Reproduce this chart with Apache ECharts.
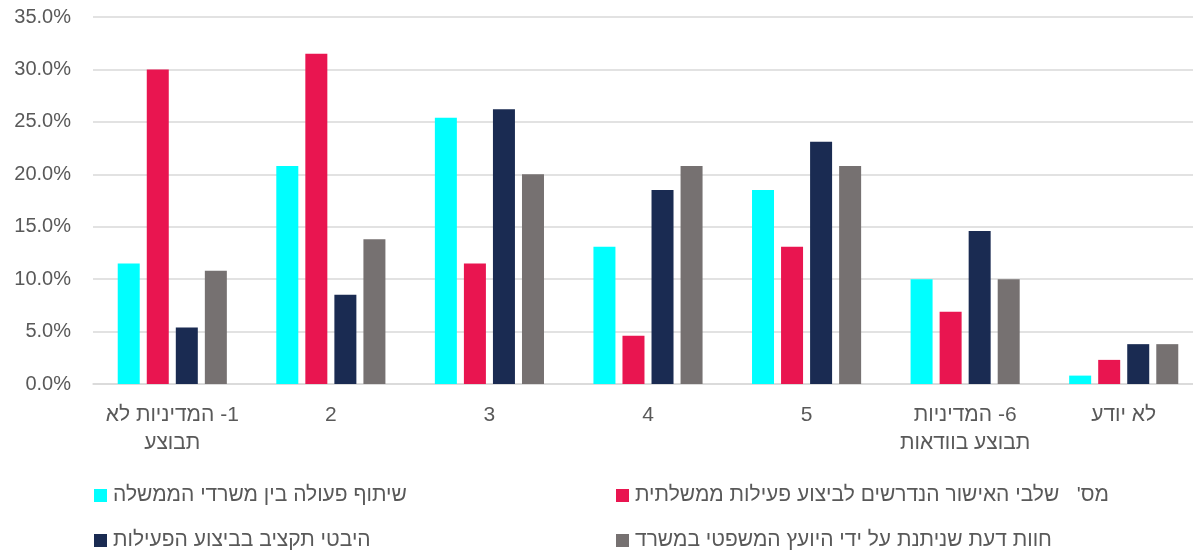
<!DOCTYPE html>
<html><head><meta charset="utf-8">
<script src="https://cdn.jsdelivr.net/npm/echarts@6/dist/echarts.min.js"></script>
<style>html,body{margin:0;padding:0;background:#fff}#c{width:1193px;height:550px}</style>
</head><body><div id="c"></div>
<script>
var categories = ['1- המדיניות לא\nתבוצע', '2', '3', '4', '5', '6- המדיניות\nתבוצע בוודאות', 'לא יודע'];
var seriesNames = ['שיתוף פעולה בין משרדי הממשלה', "מס'   שלבי האישור הנדרשים לביצוע פעילות ממשלתית", 'היבטי תקציב בביצוע הפעילות', 'חוות דעת שניתנת על ידי היועץ המשפטי במשרד'];
var cooperation = [11.5, 20.8, 25.4, 13.1, 18.5, 10.0, 0.8];
var approvalSteps = [30.0, 31.5, 11.5, 4.6, 13.1, 6.9, 2.3];
var budget = [5.4, 8.5, 26.2, 18.5, 23.1, 14.6, 3.8];
var legalOpinion = [10.8, 13.8, 20.0, 20.8, 20.8, 10.0, 3.8];
var colors = ['#00FFFF', '#E91550', '#1A2B52', '#767171'];
var values = [cooperation, approvalSteps, budget, legalOpinion];
var font = "'Liberation Sans', Arial, sans-serif";
var txt = '#595959';
// render each line as a right-to-left isolate (like the RTL source chart)
function rtl(s) {
  return s.split('\n').map(function (line) { return '\u2067' + line + '\u2069'; }).join('\n');
}
var chart = echarts.init(document.getElementById('c'));
var legendPos = [[94, 485], [616, 485], [94, 530], [616, 530]];
chart.setOption({
  animation: false,
  grid: {left: 93, top: 17, width: 1110, height: 367, outerBoundsMode: 'none', containLabel: false},
  xAxis: {
    type: 'category', data: categories,
    axisLine: {lineStyle: {color: '#d9d9d9', width: 1.5}},
    axisTick: {show: false},
    axisLabel: {color: txt, fontSize: 21, fontFamily: font, margin: 17, lineHeight: 28, interval: 0,
      formatter: function (v) { return rtl(v); }}
  },
  yAxis: {
    type: 'value', min: 0, max: 35, interval: 5,
    axisLabel: {color: txt, fontSize: 20, fontFamily: font, margin: 22, formatter: function (v) { return v.toFixed(1) + '%'; }},
    splitLine: {lineStyle: {color: '#d9d9d9', width: 1.5}},
    axisLine: {show: false}, axisTick: {show: false}
  },
  legend: seriesNames.map(function (n, i) {
    return {data: [n], left: legendPos[i][0], top: legendPos[i][1], itemWidth: 13, itemHeight: 13, icon: 'rect',
      formatter: function (name) { return rtl(name); },
      textStyle: {color: txt, fontSize: 21, fontFamily: font, padding: [0, 0, 0, 1]}, selectedMode: false, padding: 0, itemGap: 0};
  }),
  series: seriesNames.map(function (n, i) {
    return {name: n, type: 'bar', data: values[i], barWidth: 22, barGap: '32%',
      itemStyle: {color: colors[i]}};
  })
});
</script></body></html>
